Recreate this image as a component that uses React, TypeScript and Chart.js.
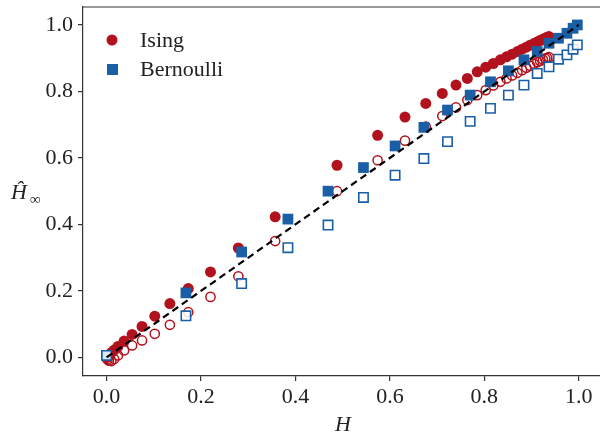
import React, { useEffect, useRef } from "react";
import { Chart, registerables } from "chart.js";

Chart.register(...registerables);

// Ising: H values, filled (H_inf estimate) and open markers
const isingH = [0, 0.002, 0.005, 0.010, 0.016, 0.024, 0.037, 0.054, 0.075, 0.102, 0.134, 0.173, 0.220, 0.279, 0.357, 0.488, 0.574, 0.632, 0.676, 0.711, 0.740, 0.764, 0.785, 0.803, 0.819, 0.834, 0.847, 0.859, 0.870, 0.880, 0.889, 0.897, 0.905, 0.912, 0.918, 0.924, 0.929, 0.933, 0.937];
const isingFilled = [0.0, 0.002, 0.006, 0.014, 0.022, 0.033, 0.049, 0.069, 0.093, 0.124, 0.162, 0.207, 0.257, 0.329, 0.423, 0.578, 0.668, 0.723, 0.764, 0.794, 0.819, 0.839, 0.859, 0.873, 0.884, 0.895, 0.904, 0.912, 0.920, 0.927, 0.933, 0.939, 0.944, 0.949, 0.953, 0.957, 0.960, 0.963, 0.965];
const isingOpen = [0.0, -0.006, -0.010, -0.011, -0.005, 0.006, 0.021, 0.036, 0.051, 0.071, 0.098, 0.136, 0.182, 0.244, 0.350, 0.500, 0.593, 0.652, 0.694, 0.726, 0.752, 0.774, 0.789, 0.804, 0.818, 0.829, 0.839, 0.848, 0.856, 0.864, 0.871, 0.877, 0.883, 0.888, 0.892, 0.896, 0.899, 0.901, 0.903];

// Bernoulli
const bernH = [0, 0.168, 0.286, 0.384, 0.469, 0.544, 0.611, 0.672, 0.722, 0.770, 0.813, 0.851, 0.884, 0.912, 0.937, 0.957, 0.975, 0.988, 0.997];
const bernFilled = [0.006, 0.194, 0.317, 0.416, 0.500, 0.571, 0.636, 0.692, 0.744, 0.789, 0.829, 0.862, 0.895, 0.920, 0.945, 0.960, 0.975, 0.990, 1.000];
const bernOpen = [0.006, 0.125, 0.222, 0.330, 0.398, 0.481, 0.548, 0.598, 0.649, 0.710, 0.749, 0.789, 0.819, 0.854, 0.874, 0.897, 0.910, 0.927, 0.940];

const diagonal = [0, 1];
const tickValues = [0, 0.2, 0.4, 0.6, 0.8, 1.0];

const RED = "#b2121d";
const BLUE = "#1a5ea6";
const AXIS = "#333333";
const FONT = "'Liberation Serif', 'Times New Roman', serif";

const pts = (xs: number[], ys: number[]) => xs.map((x, i) => ({ x, y: ys[i] }));

export default function App() {
  const ref = useRef<HTMLCanvasElement | null>(null);

  useEffect(() => {
    if (!ref.current) return;
    const decor = {
      id: "decor",
      afterDraw(chart: any) {
        const { ctx, chartArea } = chart;
        const { left, right, top, bottom } = chartArea;
        const xs = chart.scales.x;
        ctx.save();
        // top spine (right spine falls outside the visible figure)
        ctx.strokeStyle = AXIS;
        ctx.lineWidth = 1.2;
        ctx.beginPath();
        ctx.moveTo(left, top);
        ctx.lineTo(right + 3, top);
        ctx.stroke();
        // x tick labels
        ctx.fillStyle = "#222";
        ctx.font = `22px ${FONT}`;
        ctx.textAlign = "center";
        ctx.textBaseline = "alphabetic";
        tickValues.forEach((v) => {
          ctx.fillText(v.toFixed(1), xs.getPixelForValue(v), bottom + 27);
        });
        // legend
        ctx.fillStyle = RED;
        ctx.beginPath();
        ctx.arc(112, 40, 5.5, 0, Math.PI * 2);
        ctx.fill();
        ctx.fillStyle = BLUE;
        ctx.fillRect(107, 64, 11, 11);
        ctx.fillStyle = "#222";
        ctx.font = `22px ${FONT}`;
        ctx.textBaseline = "middle";
        ctx.textAlign = "left";
        ctx.fillText("Ising", 140, 41);
        ctx.fillText("Bernoulli", 140, 70);
        // x title
        ctx.font = `italic 22px ${FONT}`;
        ctx.textBaseline = "alphabetic";
        ctx.textAlign = "center";
        ctx.fillText("H", 343, 431);
        // y title
        ctx.textAlign = "left";
        ctx.fillText("Ĥ", 11, 199);
        ctx.font = `15px ${FONT}`;
        ctx.fillText("∞", 30, 204);
        ctx.restore();
      },
    };

    const tickFont = { family: FONT, size: 22 };
    const chart = new Chart(ref.current, {
      type: "scatter",
      data: {
        datasets: [
          {
            label: "diag",
            type: "line",
            data: pts(diagonal, diagonal),
            borderColor: "#000",
            borderWidth: 2.2,
            borderDash: [7, 4.5],
            pointRadius: 0,
            fill: false,
            order: 0,
          } as any,
          {
            label: "Bernoulli open",
            data: pts(bernH, bernOpen),
            pointStyle: "rect",
            pointRadius: 6.6,
            backgroundColor: "rgba(255,255,255,0.85)",
            borderColor: BLUE,
            borderWidth: 1.6,
            order: 1,
          },
          {
            label: "Bernoulli",
            data: pts(bernH, bernFilled),
            pointStyle: "rect",
            pointRadius: 7.6,
            backgroundColor: BLUE,
            borderColor: BLUE,
            borderWidth: 0,
            order: 2,
          },
          {
            label: "Ising open",
            data: pts(isingH, isingOpen),
            pointStyle: "circle",
            pointRadius: 4.6,
            backgroundColor: "rgba(255,255,255,0)",
            borderColor: RED,
            borderWidth: 1.5,
            order: 3,
          },
          {
            label: "Ising",
            data: pts(isingH, isingFilled),
            pointStyle: "circle",
            pointRadius: 5.5,
            backgroundColor: RED,
            borderColor: RED,
            borderWidth: 0,
            order: 4,
          },
        ],
      },
      options: {
        animation: false,
        responsive: false,
        layout: { autoPadding: false, padding: { top: 7, right: 0, left: 0, bottom: 0 } },
        plugins: { legend: { display: false }, tooltip: { enabled: false } },
        scales: {
          x: {
            type: "linear",
            min: -0.05,
            max: 1.045,
            afterBuildTicks: (s: any) => {
              s.ticks = tickValues.map((v) => ({ value: v }));
            },
            afterFit: (s: any) => {
              s.height = 59;
              s.paddingLeft = 0;
              s.paddingRight = 0;
            },
            ticks: { display: false },
            grid: { drawOnChartArea: false, drawTicks: true, tickLength: 5, color: AXIS, lineWidth: 1.2 },
            border: { display: true, color: AXIS, width: 1.2 },
          },
          y: {
            type: "linear",
            min: -0.056,
            max: 1.054,
            afterBuildTicks: (s: any) => {
              s.ticks = tickValues.map((v) => ({ value: v }));
            },
            afterFit: (s: any) => {
              s.width = 83;
              s.paddingTop = 0;
              s.paddingBottom = 0;
            },
            ticks: {
              font: tickFont,
              color: "#222",
              padding: 5,
              callback: (v: any) => Number(v).toFixed(1),
            },
            grid: { drawOnChartArea: false, drawTicks: true, tickLength: 5, color: AXIS, lineWidth: 1.2 },
            border: { display: true, color: AXIS, width: 1.2 },
          },
        },
      },
      plugins: [decor],
    });
    return () => chart.destroy();
  }, []);

  return (
    <div style={{ position: "absolute", left: 0, top: 0, width: 600, height: 435, background: "#fff" }}>
      <canvas ref={ref} width={600} height={435} />
    </div>
  );
}
